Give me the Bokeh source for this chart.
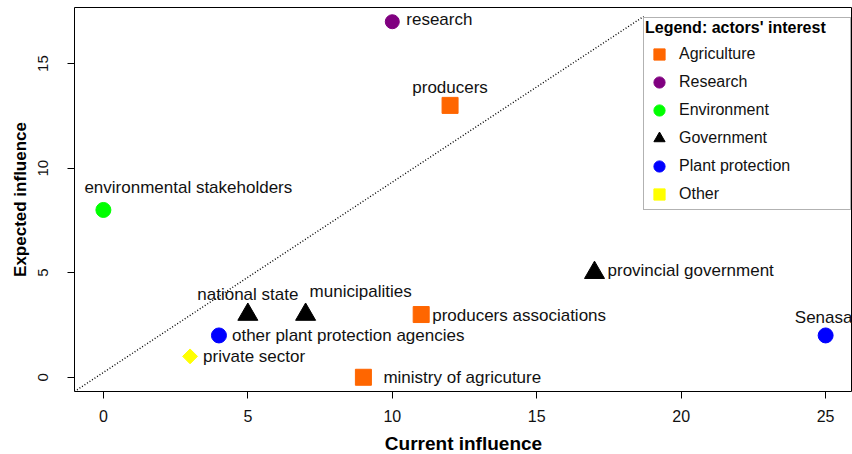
import math
from bokeh.plotting import figure
from bokeh.models import Range1d, Legend, LegendItem, FixedTicker, ColumnDataSource
from bokeh.core.properties import value
from bokeh.embed import file_html
from bokeh.resources import INLINE

# ---------------- data ----------------
actors = ["research", "producers", "environmental stakeholders", "national state",
          "municipalities", "producers associations", "other plant protection agencies",
          "private sector", "ministry of agricuture", "provincial government", "Senasa"]
current_influence = [10, 12, 0, 5, 7, 11, 4, 3, 9, 17, 25]
expected_influence = [17, 13, 8, 3, 3, 3, 2, 1, 0, 5, 2]
interest = ["Research", "Agriculture", "Environment", "Government", "Government",
            "Agriculture", "Plant protection", "Other", "Agriculture", "Government",
            "Plant protection"]
categories = ["Agriculture", "Research", "Environment", "Government", "Plant protection", "Other"]
x_ticks = [0, 5, 10, 15, 20, 25]
y_ticks = [0, 5, 10, 15]
diag_x = [-1.0, 18.7]
diag_y = [-0.68, 17.25]
x_title = "Current influence"
y_title = "Expected influence"
legend_title = "Legend: actors' interest"

# ---------------- styles ----------------
cat_style = {
    "Agriculture": dict(marker="square", color="#FF6600", size=16, angle=0),
    "Research": dict(marker="circle", color="#800080", size=14, angle=0),
    "Environment": dict(marker="circle", color="#00FF00", size=15, angle=0),
    "Government": dict(marker="triangle", color="#000000", size=20, angle=0),
    "Plant protection": dict(marker="circle", color="#0000FF", size=15, angle=0),
    "Other": dict(marker="square", color="#FFFF00", size=10.5, angle=math.pi / 4),
}
# label placement (pixels): align, dx, dy (negative dy = up)
label_align = ["left", "center", "left", "center", "left", "left", "left", "left", "left", "left", "center"]
label_dx = [14, 0, -19, 0, 4, 11, 13, 13, 20, 13, -2]
label_dy = [-2, -18, -22, -20, -23, 1, 0, 0, 0, -2, -18]

FONT = "Liberation Sans"

p = figure(frame_width=778, frame_height=384,
           x_range=Range1d(-1.0, 25.93), y_range=Range1d(-0.68, 17.68),
           output_backend="svg", toolbar_location=None,
           min_border_left=74, min_border_right=0, min_border_top=7, min_border_bottom=60)

p.background_fill_color = "white"
p.border_fill_color = "white"
p.outline_line_color = "black"
p.outline_line_width = 1
p.outline_line_alpha = 1
p.grid.visible = False

# diagonal reference line
p.line(diag_x, diag_y, line_color="black", line_width=1.4, line_dash="1 2")

# points per category
legend_items = []
for cat in categories:
    idx = [i for i, c in enumerate(interest) if c == cat]
    src = ColumnDataSource(dict(x=[current_influence[i] for i in idx],
                                y=[expected_influence[i] for i in idx]))
    st = cat_style[cat]
    r = p.scatter("x", "y", source=src, marker=st["marker"], size=st["size"],
                  angle=st["angle"], fill_color=st["color"], line_color=st["color"],
                  line_width=1)
    legend_items.append(LegendItem(label=cat, renderers=[r]))

# labels
for align in ["left", "center"]:
    idx = [i for i, a in enumerate(label_align) if a == align]
    src = ColumnDataSource(dict(x=[current_influence[i] for i in idx],
                                y=[expected_influence[i] for i in idx],
                                t=[actors[i] for i in idx],
                                dx=[label_dx[i] for i in idx],
                                dy=[label_dy[i] for i in idx]))
    p.text("x", "y", text="t", source=src, x_offset="dx", y_offset="dy",
           text_align=align, text_baseline="middle",
           text_font=value(FONT), text_font_size="17px", text_color="#111111")

# axes
for ax in [p.xaxis[0], p.yaxis[0]]:
    ax.axis_line_color = None
    ax.major_tick_in = 0
    ax.major_tick_out = 7
    ax.major_tick_line_color = "black"
    ax.minor_tick_line_color = None
    ax.major_label_text_font = FONT
    ax.major_label_text_color = "#111111"
    ax.axis_label_text_font = FONT
    ax.axis_label_text_font_style = "bold"
    ax.axis_label_text_color = "black"

p.xaxis.ticker = FixedTicker(ticks=x_ticks)
p.yaxis.ticker = FixedTicker(ticks=y_ticks)
p.xaxis.major_label_text_font_size = "16px"
p.yaxis.major_label_text_font_size = "15px"
p.xaxis.axis_label = x_title
p.yaxis.axis_label = y_title
p.xaxis.axis_label_text_font_size = "19px"
p.yaxis.axis_label_text_font_size = "17px"
p.yaxis.major_label_orientation = "vertical"
p.xaxis.major_label_standoff = 11
p.yaxis.major_label_standoff = 19
p.xaxis.axis_label_standoff = 8
p.yaxis.axis_label_standoff = 6

legend = Legend(items=legend_items, location=(569, 181), margin=0,
                title=legend_title,
                title_text_font=FONT, title_text_font_size="16px",
                title_text_font_style="bold", title_text_color="black",
                title_standoff=3,
                label_text_font=FONT, label_text_font_size="16px",
                label_text_color="#111111",
                glyph_width=28, glyph_height=28, spacing=0, padding=1,
                label_standoff=6, label_width=170,
                border_line_color="#666666", border_line_width=1,
                background_fill_color="white", background_fill_alpha=1)
p.add_layout(legend)

open("out.html", "w").write(file_html(p, INLINE))
